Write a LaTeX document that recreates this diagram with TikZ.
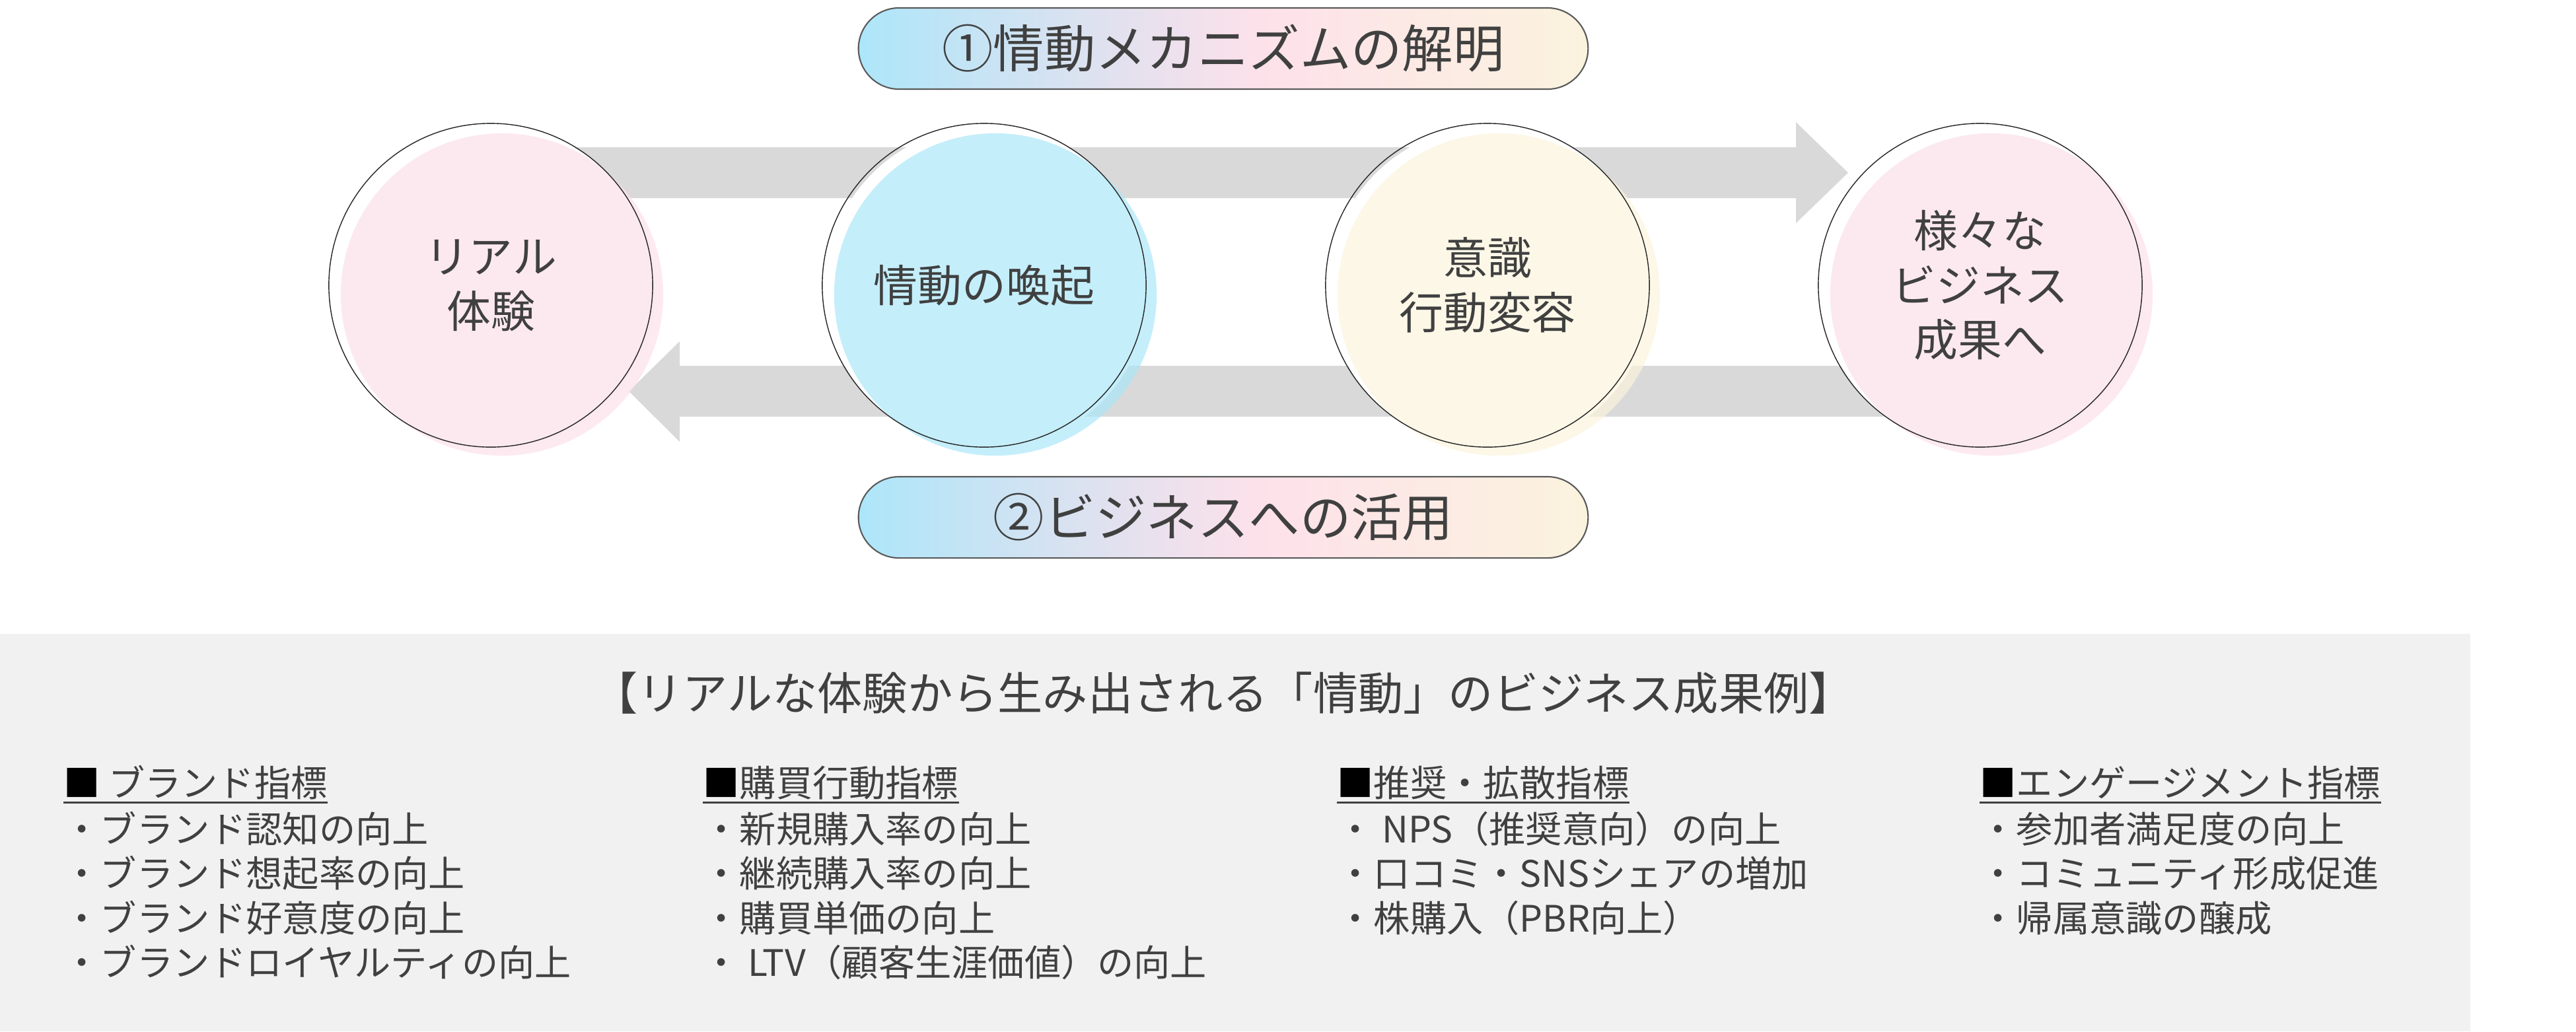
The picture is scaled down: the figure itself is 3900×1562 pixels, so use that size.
\documentclass[tikz,border=0pt]{standalone}
\usepackage{fontspec}
\setmainfont{Noto Sans CJK JP}
\usetikzlibrary{calc}
\definecolor{txt}{HTML}{404040}
\definecolor{arrowgray}{HTML}{D9D9D9}
\definecolor{panelgray}{HTML}{F1F1F1}
\definecolor{pinkc}{HTML}{FCE1EA}
\definecolor{bluec}{HTML}{ACE7F9}
\definecolor{creamc}{HTML}{FBF4DD}
\definecolor{pillborder}{HTML}{5A5A5A}
\definecolor{ga}{HTML}{ADE6F9}
\definecolor{gb}{HTML}{E2E1EF}
\definecolor{gc}{HTML}{FDE1EA}
\definecolor{gd}{HTML}{FBF3DE}
\pgfdeclarehorizontalshading{pillshade}{100bp}{color(0bp)=(ga); color(25bp)=(ga); color(42.5bp)=(gb); color(52.5bp)=(gc); color(75bp)=(gd); color(100bp)=(gd)}
\tikzset{
  pill/.style={draw=pillborder, line width=0.6pt, shade, shading=pillshade,
    rounded corners=0.615cm, minimum width=11.04cm, minimum height=1.23cm,
    inner sep=0pt, text=txt, font=\fontsize{22pt}{26pt}\selectfont},
  ring/.style={circle, draw=black!85, line width=0.4pt, minimum size=4.9cm,
    inner sep=0pt, align=center, text=txt, font=\fontsize{19pt}{23.5pt}\selectfont},
  blockarrow/.style={fill=arrowgray},
  softdisk/.style={fill opacity=0.7},
  titletext/.style={text=txt, font=\fontsize{19.4pt}{23pt}\selectfont, inner sep=0pt},
  headtext/.style={text=txt, font=\fontsize{15.7pt}{19pt}\selectfont, inner sep=0pt, anchor=base west},
  itemtext/.style={text=txt, font=\fontsize{15.7pt}{19pt}\selectfont, inner sep=0pt, anchor=base west},
  uline/.style={draw=txt, line width=0.85pt}
}
\begin{document}
\begin{tikzpicture}[x=0.01cm,y=-0.01cm]
\useasboundingbox (0,0) rectangle (3900,1562);
% circle centres
\coordinate (c1) at (743,432);
\coordinate (c2) at (1490,432);
\coordinate (c3) at (2252,432);
\coordinate (c4) at (2998,432);
% block arrows
\coordinate (a1s) at (743,261.5);
\coordinate (a1t) at (2798,261.5);
\coordinate (a2s) at (2998,592.5);
\coordinate (a2t) at (952,592.5);
\fill[blockarrow] ($(a1s)+(0,-38.5)$) -- ($(a1t)+(-79,-38.5)$) -- ($(a1t)+(-79,-76.5)$)
  -- (a1t) -- ($(a1t)+(-79,76.5)$) -- ($(a1t)+(-79,38.5)$) -- ($(a1s)+(0,38.5)$) -- cycle;
\fill[blockarrow] ($(a2s)+(0,-38.5)$) -- ($(a2t)+(77,-38.5)$) -- ($(a2t)+(77,-75.5)$)
  -- (a2t) -- ($(a2t)+(77,76.5)$) -- ($(a2t)+(77,38.5)$) -- ($(a2s)+(0,38.5)$) -- cycle;
% white disks
\foreach \c in {c1,c2,c3,c4}
  \fill[white] ($(\c)+(4,4)$) circle[radius=2.45cm];
% coloured disks
\fill[pinkc, softdisk] ($(c1)+(17,14)$) circle[radius=2.44cm];
\fill[bluec, softdisk] ($(c2)+(17,14)$) circle[radius=2.44cm];
\fill[creamc, softdisk] ($(c3)+(17,14)$) circle[radius=2.44cm];
\fill[pinkc, softdisk] ($(c4)+(17,14)$) circle[radius=2.44cm];
% outlined circles with text
\node[ring] (r1) at (c1) {リアル\\体験};
\node[ring] (r2) at (c2) {情動の喚起};
\node[ring] (r3) at (c3) {意識\\行動変容};
\node[ring] (r4) at (c4) {様々な\\ビジネス\\成果へ};
% pills
\node[pill] (p1) at (1852,73.5) {①情動メカニズムの解明};
\node[pill] (p2) at (1852,783.5) {②ビジネスへの活用};
% panel
\fill[panelgray] (0,960) rectangle (3740,1562);
\node[titletext, anchor=base] (title) at (1852,1075) {【リアルな体験から生み出される「情動」のビジネス成果例】};
% column headings
\node[headtext] (h1) at (96,1206) {{\color{black}■} ブランド指標};
\node[headtext] (h2) at (1064,1206) {{\color{black}■}購買行動指標};
\node[headtext] (h3) at (2024,1206) {{\color{black}■}推奨・拡散指標};
\node[headtext] (h4) at (2997,1206) {{\color{black}■}エンゲージメント指標};
\foreach \h in {h1,h2,h3,h4}
  \draw[uline] ([yshift=-0.09cm]\h.base west) -- ([yshift=-0.09cm]\h.base east);
% items
\foreach \t [count=\i] in {・ブランド認知の向上,・ブランド想起率の向上,・ブランド好意度の向上,・ブランドロイヤルティの向上}
  \node[itemtext] (ia\i) at (96,{1276+67.5*(\i-1)}) {\t};
\foreach \t [count=\i] in {・新規購入率の向上,・継続購入率の向上,・購買単価の向上,・ LTV（顧客生涯価値）の向上}
  \node[itemtext] (ib\i) at (1064,{1276+67.5*(\i-1)}) {\t};
\foreach \t [count=\i] in {・ NPS（推奨意向）の向上,・口コミ・SNSシェアの増加,・株購入（PBR向上）}
  \node[itemtext] (ic\i) at (2024,{1276+67.5*(\i-1)}) {\t};
\foreach \t [count=\i] in {・参加者満足度の向上,・コミュニティ形成促進,・帰属意識の醸成}
  \node[itemtext] (id\i) at (2997,{1276+67.5*(\i-1)}) {\t};
\end{tikzpicture}
\end{document}
